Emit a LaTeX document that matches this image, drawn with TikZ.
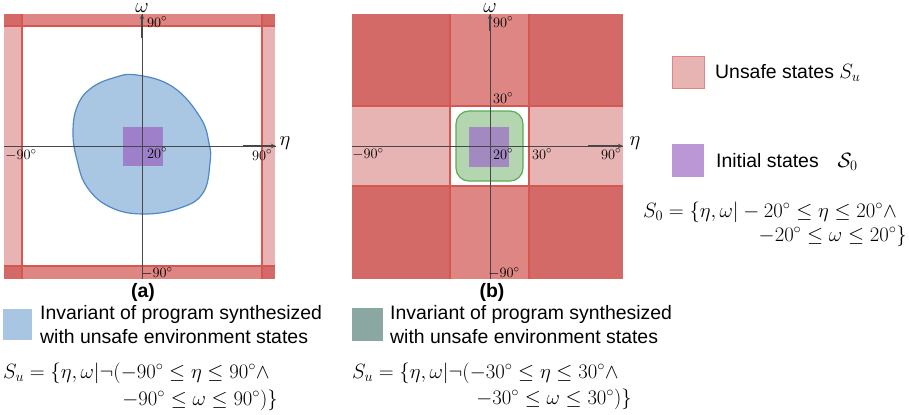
\documentclass[tikz,border=0pt]{standalone}
\usepackage[no-math]{fontspec}
\newfontfamily\lsans{Liberation Sans}
\usetikzlibrary{arrows.meta}
\definecolor{pinkL}{HTML}{E8B3B3}
\definecolor{pinkM}{HTML}{DD8683}
\definecolor{pinkD}{HTML}{D46A67}
\definecolor{redL}{HTML}{D65752}
\definecolor{blobB}{HTML}{A9C6E2}
\definecolor{blobBd}{HTML}{4F88C6}
\definecolor{purA}{HTML}{9D80C9}
\definecolor{purB}{HTML}{A28AC1}
\definecolor{purLeg}{HTML}{BC97D6}
\definecolor{grnF}{HTML}{B3D6B1}
\definecolor{grnD}{HTML}{5DAA5A}
\definecolor{legG}{HTML}{8BA7A1}
\definecolor{legB}{HTML}{A8C5E2}
\definecolor{axisC}{HTML}{474747}
\tikzset{
  tick/.style={font=\fontsize{15}{17}\selectfont, inner sep=0pt},
  axlab/.style={font=\fontsize{20}{22}\selectfont, inner sep=0pt},
  lab/.style={font=\lsans\fontsize{19.5}{24}\selectfont, inner sep=0pt, align=left},
  capt/.style={font=\lsans\bfseries\fontsize{19.5}{23}\selectfont, inner sep=0pt},
  fml/.style={font=\fontsize{20.8}{23}\selectfont, inner sep=0pt},
  axisln/.style={draw=axisC, line width=0.8pt},
  axisarr/.style={draw=axisC, line width=1.4pt, -{Stealth[length=5pt,width=4.5pt]}},
  redln/.style={draw=redL, line width=1.1pt},
}
\begin{document}
\begin{tikzpicture}[x=1bp,y=-1bp]
\useasboundingbox (0,0) rectangle (909,414);
\fill[white] (0,0) rectangle (909,414);

% ---------------- panel (a) ----------------
\fill[pinkL] (4,14) rectangle (22,279);
\fill[pinkL] (262,14) rectangle (275,279);
\fill[pinkM] (4,14) rectangle (275,26);
\fill[pinkM] (4,266) rectangle (275,279);
\fill[pinkD] (4,14) rectangle (22,26);
\fill[pinkD] (262,14) rectangle (275,26);
\fill[pinkD] (4,266) rectangle (22,279);
\fill[pinkD] (262,266) rectangle (275,279);
\draw[redln] (22,14) -- (22,279);
\draw[redln] (262,14) -- (262,279);
\draw[redln] (4,26) -- (275,26);
\draw[redln] (4,266) -- (275,266);

\draw[fill=blobB, draw=blobBd, line width=1.2pt]
  plot[smooth cycle, tension=0.7] coordinates {
  (137,75) (173,87) (200,117) (209,143) (210,163) (203,193) (180,208)
  (143,214) (110,207) (87,187) (77,160) (73,133) (77,107) (90,89) (113,78)};
\fill[purA] (123,127) rectangle (163,166);

\coordinate (aL) at (4,146);
\coordinate (aR) at (276,146);
\coordinate (aRm) at (243,146);
\coordinate (aB) at (142,279);
\coordinate (aT) at (142,14);
\coordinate (aTm) at (142,38);
\draw[axisln] (aL) -- (aR);
\draw[axisln] (aB) -- (aT);
\draw[axisarr] (aRm) -- (aR);
\draw[axisarr] (aTm) -- (aT);

\node[axlab] (aomega) at (142,8) {$\omega$};
\node[axlab] (aeta) at (285,143) {$\eta$};
\node[tick] (at1) at (157,22) {$90^\circ$};
\node[tick] (at2) at (21,155) {$-90^\circ$};
\node[tick] (at3) at (157,153) {$20^\circ$};
\node[tick] (at4) at (262,155) {$90^\circ$};
\node[tick] (at5) at (157,273) {$-90^\circ$};

% ---------------- panel (b) ----------------
\fill[pinkD] (352,14) rectangle (623,279);
\fill[pinkM] (450,14) rectangle (529,279);
\fill[pinkL] (352,106) rectangle (623,186);
\fill[white] (450,106) rectangle (529,186);
\draw[redln] (450,14) -- (450,279);
\draw[redln] (529,14) -- (529,279);
\draw[redln] (352,106) -- (623,106);
\draw[redln] (352,186) -- (623,186);

\draw[fill=grnF, draw=grnD, line width=1.2pt, rounded corners=13pt]
  (456,111) rectangle (523,181);
\fill[purB] (469,127) rectangle (509,167);

\coordinate (bL) at (352,146);
\coordinate (bR) at (623,146);
\coordinate (bRm) at (588,146);
\coordinate (bB) at (490,279);
\coordinate (bT) at (490,14);
\coordinate (bTm) at (490,31);
\draw[axisln] (bL) -- (bR);
\draw[axisln] (bB) -- (bT);
\draw[axisarr] (bRm) -- (bR);
\draw[axisarr] (bTm) -- (bT);

\node[axlab] (bomega) at (490,8) {$\omega$};
\node[axlab] (beta) at (635,143) {$\eta$};
\node[tick] (bt1) at (503,22) {$90^\circ$};
\node[tick] (bt2) at (503,98) {$30^\circ$};
\node[tick] (bt3) at (368,154) {$-90^\circ$};
\node[tick] (bt4) at (503,154) {$20^\circ$};
\node[tick] (bt5) at (542,154) {$30^\circ$};
\node[tick] (bt6) at (611,154) {$90^\circ$};
\node[tick] (bt7) at (504,273) {$-90^\circ$};

% ---------------- right legend ----------------
\fill[pinkL, draw=pinkM, line width=0.6pt] (672,56) rectangle (704,88);
\node[lab, anchor=west] (unsafe) at (715,73) {Unsafe states $S_u$};
\fill[purLeg] (672,144) rectangle (704,177);
\node[lab, anchor=west] (init) at (716,162) {Initial states\hspace{19pt}$\mathcal{S}_0$};
\node[fml, anchor=west] (s0a) at (643,212) {$S_0=\{\eta,\omega| - 20^\circ\leq\eta\leq20^\circ\wedge$};
\node[fml, anchor=east] (s0b) at (907,236) {$-20^\circ\leq\omega\leq20^\circ\}$};

% ---------------- captions and bottom legends ----------------
\node[capt] (capa) at (143,292) {(a)};
\node[capt] (capb) at (492,292) {(b)};

\fill[legB] (3,309) rectangle (32,340);
\node[lab, anchor=west] (inva) at (40,325) {Invariant of program synthesized\\with unsafe environment states};
\fill[legG] (352,308) rectangle (383,341);
\node[lab, anchor=west] (invb) at (390,325) {Invariant of program synthesized\\with unsafe environment states};

\node[fml, anchor=west] (sua1) at (3,373) {$S_u=\{\eta,\omega|\neg(-90^\circ\leq\eta\leq90^\circ\wedge$};
\node[fml, anchor=east] (sua2) at (278,400) {$-90^\circ\leq\omega\leq90^\circ)\}$};
\node[fml, anchor=west] (sub1) at (352,373) {$S_u=\{\eta,\omega|\neg(-30^\circ\leq\eta\leq30^\circ\wedge$};
\node[fml, anchor=east] (sub2) at (632,399) {$-30^\circ\leq\omega\leq30^\circ)\}$};
\end{tikzpicture}
\end{document}
